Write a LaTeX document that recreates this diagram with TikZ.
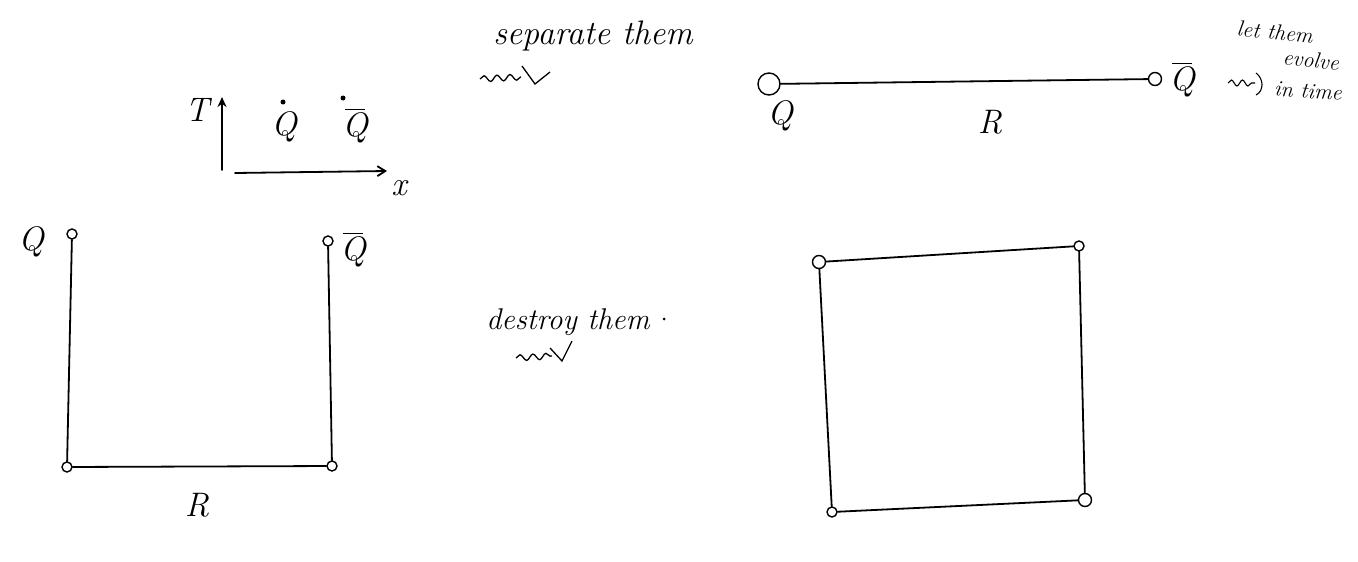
\documentclass[tikz,border=0pt]{standalone}
\usepackage{fontspec}
\usetikzlibrary{arrows.meta,decorations.pathmorphing}
\begin{document}
\begin{tikzpicture}[x=1pt,y=-1pt,
  stroke/.style={line width=1.8pt,line cap=round,line join=round},
  endpt/.style={circle,draw,line width=1.4pt,minimum size=10pt,inner sep=0pt},
  lbl/.style={font=\itshape\fontsize{34}{38}\selectfont,inner sep=0pt},
  dotmark/.style={circle,fill,minimum size=5pt,inner sep=0pt},
  barline/.style={line width=1.4pt},
  note/.style={font=\itshape\fontsize{34}{38}\selectfont,inner sep=0pt},
  small/.style={font=\itshape\fontsize{22}{24}\selectfont,inner sep=0pt},
  wiggle/.style={line width=1.3pt,decorate,decoration={snake,amplitude=3pt,segment length=13pt}}]
\useasboundingbox (0,0) rectangle (1358,562);

% axes
\coordinate (tbot) at (222,170);
\coordinate (ttop) at (222,97);
\coordinate (xl) at (235,173);
\coordinate (xr) at (387,171);
\draw[stroke,-{Stealth[length=10pt,width=9pt]}] (tbot) -- (ttop);
\draw[stroke,-{Straight Barb[length=8pt,width=10pt]}] (xl) -- (xr);
\node[lbl] (tlab) at (197,110) {T};
\node[lbl] (xlab) at (399,188) {x};
\node[lbl] (qd) at (284,127) {Q};
\node[dotmark] (qddot) at (283,102) {};
\node[lbl] (qbd) at (355,128) {Q};
\draw[barline] ([xshift=-10pt,yshift=3pt]qbd.north) -- ([xshift=10pt,yshift=3pt]qbd.north);
\node[dotmark] (qbddot) at (343,98) {};

% separate them
\node[note] (sep) at (593,36) {separate them};
\coordinate (w1a) at (480,79);
\coordinate (w1b) at (521,77);
\draw[wiggle] (w1a) -- (w1b);
\draw[line width=1.3pt] (522,66) -- (535,84) -- (550,72);

% pair at distance R
\node[endpt,minimum size=22pt] (q1) at (769,84) {};
\node[endpt,minimum size=13pt] (q2) at (1155,79) {};
\draw[stroke] (q1) -- (q2);
\node[lbl] (q1lab) at (780,116) {Q};
\node[lbl] (rlab1) at (990,122) {R};
\node[lbl] (q2lab) at (1182,82) {Q};
\draw[barline] ([xshift=-10pt,yshift=3pt]q2lab.north) -- ([xshift=10pt,yshift=3pt]q2lab.north);

% let them evolve in time
\node[small,rotate=-6] (evo1) at (1275,32) {let them};
\node[small,rotate=-6] (evo2) at (1311,60) {evolve};
\node[small,rotate=-4] (evo3) at (1308,91) {in time};
\coordinate (w3a) at (1228,83);
\coordinate (w3b) at (1255,83);
\draw[line width=1.1pt,decorate,decoration={snake,amplitude=3pt,segment length=11pt}] (w3a) -- (w3b);
\draw[line width=1.1pt] (1256,73) .. controls (1264,79) and (1264,91) .. (1256,95);

% loop opened at the top
\node[endpt] (a1) at (72,234) {};
\node[endpt] (a2) at (67,467) {};
\node[endpt] (a3) at (332,466) {};
\node[endpt] (a4) at (328,241) {};
\draw[stroke] (a1) -- (a2) -- (a3) -- (a4);
\node[lbl] (qa) at (31,242) {Q};
\node[lbl] (qba) at (353,252) {Q};
\draw[barline] ([xshift=-10pt,yshift=3pt]qba.north) -- ([xshift=10pt,yshift=3pt]qba.north);
\node[lbl] (ra) at (197,505) {R};

% destroy them
\node[note,font=\itshape\fontsize{30}{34}\selectfont] (des) at (568,322) {destroy them};
\node[dotmark,minimum size=3pt] (desdot) at (664,319) {};
\coordinate (w2a) at (516,358);
\coordinate (w2b) at (552,356);
\draw[wiggle] (w2a) -- (w2b);
\draw[line width=1.3pt] (550,348) -- (562,361) -- (572,341);

% closed loop
\node[endpt,minimum size=13pt] (b1) at (819,262) {};
\node[endpt] (b2) at (1079,246) {};
\node[endpt,minimum size=13pt] (b3) at (1085,500) {};
\node[endpt] (b4) at (832,512) {};
\draw[stroke] (b1) -- (b2) -- (b3) -- (b4) -- (b1);
\end{tikzpicture}
\end{document}
